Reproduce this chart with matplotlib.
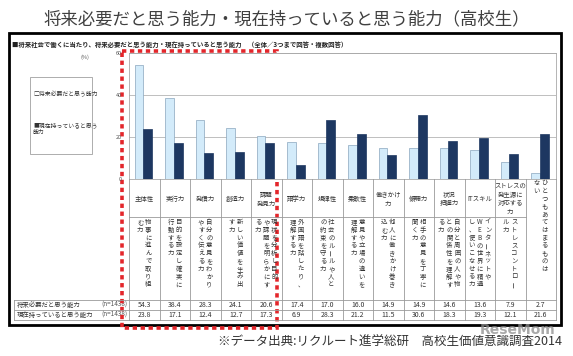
import matplotlib
matplotlib.use("Agg")
import matplotlib.pyplot as plt
from matplotlib.patches import Rectangle

plt.rcParams['font.family'] = ['Noto Sans CJK JP', 'DejaVu Sans']

# --- data ---
headers = ["主体性", "実行力", "発信力", "創造力", "課題\n発見力", "語学力", "規律性",
           "柔軟性", "働きかけ\n力", "傾聴力", "状況\n把握力", "ITスキル",
           "ストレスの\n発生源に\n対応する\n力", ""]
# vertical (tategaki) descriptions, columns listed right to left
descs = [
    ["物事に進んで取り組", "む力"],
    ["目的を設定し確実に", "行動する力"],
    ["自分の意見をわかり", "やすく伝える力"],
    ["新しい価値を生み出", "す力"],
    ["現状を分析し目的", "や課題を明らかにす", "る力"],
    ["外国語を話したり、", "理解する力"],
    ["社会のルールや人と", "の約束を守る力"],
    ["意見や立場の違いを", "理解する力"],
    ["他人に働きかけ巻き", "込む力"],
    ["相手の意見を丁寧に", "聞く力"],
    ["自分と周囲の人や物", "との関係性を理解す", "る力"],
    ["インターネットや", "WEBの世界に精通", "し、使いこなせる力"],
    ["ストレスコントロー", "ル力"],
    ["ひとつもあてはまるものは", "ない"],
]
future = [54.3, 38.4, 28.3, 24.1, 20.6, 17.4, 17.0, 16.0, 14.9, 14.9, 14.6, 13.6, 7.9, 2.7]
current = [23.8, 17.1, 12.4, 12.7, 17.3, 6.9, 28.3, 21.2, 11.5, 30.6, 18.3, 19.3, 12.1, 21.6]
row_labels = ["将来必要だと思う能力", "現在持っていると思う能力"]
n_label = "(n=1438)"
yticks = [0, 20, 40, 60]

W, H = 573, 356
LIGHT = "#d3ebfa"
DARK = "#1d3761"
GRID = "#b4b4b4"
TXT = "#333333"

fig = plt.figure(figsize=(W / 100, H / 100), dpi=100)

def fx(px):
    return px / W

def fy(py):
    return 1 - py / H

# overlay in pixel coordinates (y down)
ov = fig.add_axes([0, 0, 1, 1])
ov.set_xlim(0, W)
ov.set_ylim(H, 0)
ov.axis("off")

# plot area
pl, pr, pt, pb = 129, 556, 53, 179
ax = fig.add_axes([fx(pl), fy(pb), fx(pr - pl), (pb - pt) / H])
x = list(range(len(future)))
ax.bar([i - 0.17 for i in x], future, width=0.29, color=LIGHT, edgecolor="#8aa6bd", linewidth=0.5, zorder=3)
ax.bar([i + 0.12 for i in x], current, width=0.29, color=DARK, edgecolor=DARK, linewidth=0.5, zorder=3)
ax.set_xlim(-0.5, len(future) - 0.5)
ax.set_ylim(0, 60)
ax.set_yticks(yticks)
ax.set_yticklabels([str(v) for v in yticks], fontsize=4, color="#555555")
ax.tick_params(axis="y", length=0, pad=5)
ax.set_xticks([])
ax.grid(axis="y", color=GRID, linewidth=0.6, zorder=0)
for s in ax.spines.values():
    s.set_color("#a8a8a8")
    s.set_linewidth(0.6)

# table axes sharing x with the bar axes, y in pixels
tb = 327
at = fig.add_axes([fx(pl), fy(tb), fx(pr - pl), (tb - pb) / H], sharex=ax)
at.set_ylim(tb, pb)
at.axis("off")
LC = "#9a9a9a"
for k in range(len(future) + 1):
    at.plot([k - 0.5, k - 0.5], [pb, 320], color=LC, lw=0.6, clip_on=False)
at.plot([-0.5, len(future) - 1.5], [217, 217], color=LC, lw=0.6)
left_frac = (14 - pl) / (pr - pl)
for yy in (300, 310, 320):
    at.axhline(yy, xmin=left_frac, xmax=1, color=LC, lw=0.6, clip_on=False)

fs = 4.6
dy = 7.8
colsp = 0.265
for i, (h, cols) in enumerate(zip(headers, descs)):
    if h:
        at.text(i, 199, h, ha="center", va="center", fontsize=fs, color=TXT, linespacing=1.15)
    ytop = 222 if h else 183
    n = len(cols)
    for j, col in enumerate(cols):
        xc = i + ((n - 1) / 2 - j) * colsp
        for k, ch in enumerate(col):
            rot = 90 if ch in "ー" else 0
            at.text(xc, ytop + k * dy, ch, ha="center", va="center", fontsize=fs,
                    color=TXT, rotation=rot)
    at.text(i, 305, f"{future[i]:.1f}", ha="center", va="center", fontsize=fs + 0.4, color=TXT)
    at.text(i, 315, f"{current[i]:.1f}", ha="center", va="center", fontsize=fs + 0.4, color=TXT)

# row labels and left table edge
ov.plot([14, 14], [300, 320], color=LC, lw=0.6)
for yy, lab in zip((305, 315), row_labels):
    ov.text(17, yy, lab, ha="left", va="center", fontsize=fs, color=TXT)
    ov.text(127, yy, n_label, ha="right", va="center", fontsize=fs, color="#555555")

# legend box
ov.add_patch(Rectangle((30, 77), 62, 77, fill=False, edgecolor="#a0a0a0", lw=0.6))
ov.text(33, 94, "□将来必要だと思う能力", ha="left", va="center", fontsize=4.2, color=TXT)
ov.text(33, 129, "■現在持っていると思う\n能力", ha="left", va="center", fontsize=4.2,
        color=TXT, linespacing=1.4)
ov.text(85, 57, "(%)", ha="center", va="center", fontsize=4, color="#555555")

# titles
ov.text(287, 19, "将来必要だと思う能力・現在持っていると思う能力（高校生）", ha="center",
        va="center", fontsize=12.5, color="#404040")
ov.text(12, 44, "■将来社会で働くに当たり、将来必要だと思う能力・現在持っていると思う能力　（全体／3つまで回答・複数回答）",
        ha="left", va="center", fontsize=4.6, fontweight="bold", color="#222222")

# black frame
ov.add_patch(Rectangle((9, 33), 552, 292, fill=False, edgecolor="black", lw=2))

# red dashed highlight
ov.add_patch(Rectangle((122, 51), 155, 277, fill=False, edgecolor="#e3262b", lw=2.6,
                       linestyle=(0, (1.2, 1.0)), zorder=10))

# footer
ov.text(562, 342, "※データ出典:リクルート進学総研　高校生価値意識調査2014", ha="right",
        va="center", fontsize=9, color="#333333")
ov.text(518, 330, "ReseMom", ha="center", va="center", fontsize=10, fontweight="bold",
        color="#8c8c8c", alpha=0.75, family="DejaVu Sans")

fig.savefig("out.png", dpi=100)
